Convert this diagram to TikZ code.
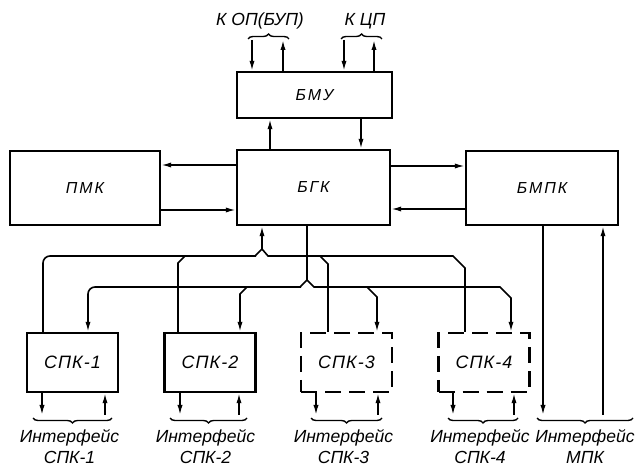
\documentclass[tikz,border=0pt]{standalone}
\usepackage{fontspec}
\setmainfont{Liberation Sans}
\usetikzlibrary{arrows.meta,decorations.pathreplacing}

\tikzset{
    blk/.style={draw,line width=1.2pt,inner sep=0pt,
        font=\itshape\fontsize{8}{10}\selectfont\addfontfeatures{LetterSpace=12}},
    spk/.style={draw,line width=1.2pt,inner sep=0pt,
        minimum width=45.5bp,minimum height=29.5bp,
        font=\itshape\fontsize{9}{11}\selectfont\addfontfeatures{LetterSpace=6}},
    spkopt/.style={spk,dash pattern=on 8bp off 4bp},
    link/.style={line width=0.8pt},
    brc/.style={decorate,decoration={brace,amplitude=2.5bp},line width=0.7pt},
    brcd/.style={decorate,decoration={brace,mirror,amplitude=2.5bp},line width=0.7pt},
    lbl/.style={inner sep=0pt,align=center,
        font=\itshape\fontsize{8.8}{10.5}\selectfont},
}

\begin{document}
\begin{tikzpicture}[x=0.5bp,y=-0.5bp,>={Latex[length=5bp,width=2.6bp]}]
    \useasboundingbox (0,0) rectangle (637,465);

    % blocks
    \node[blk,minimum width=77.5bp,minimum height=23bp] (bmu) at (314.5,95) {БМУ};
    \node[blk,minimum width=75bp,minimum height=37bp] (pmk) at (85,188) {ПМК};
    \node[blk,minimum width=76.5bp,minimum height=37.5bp] (bgk) at (313.5,187.5) {БГК};
    \node[blk,minimum width=76bp,minimum height=37bp] (bmpk) at (542,188) {БМПК};
    \node[spk] (spk1) at (72.5,362.5) {СПК-1\hspace{5bp}};
    \node[spk] (spk2) at (210,362.5) {СПК-2\hspace{5bp}};
    \node[spkopt] (spk3) at (346.5,362.5) {СПК-3\hspace{5bp}};
    \node[spkopt] (spk4) at (484,362.5) {СПК-4\hspace{5bp}};

    % outside links of БМУ
    \coordinate (op-in) at (252,40);
    \coordinate (op-out) at (283,40);
    \coordinate (cp-in) at (344,40);
    \coordinate (cp-out) at (374,40);
    \draw[link,->] (op-in) -- (bmu.north -| op-in);
    \draw[link,->] (bmu.north -| op-out) -- (op-out);
    \draw[link,->] (cp-in) -- (bmu.north -| cp-in);
    \draw[link,->] (bmu.north -| cp-out) -- (cp-out);
    \draw[brc] (248,39) -- (289,39);
    \draw[brc] (341,39) -- (382,39);
    \node[lbl,anchor=base] (op) at (260,26) {К ОП(БУП)};
    \node[lbl,anchor=base] (cp) at (365,26) {К ЦП};

    % БМУ -- БГК
    \draw[link,->] (bgk.north -| 270,0) -- (bmu.south -| 270,0);
    \draw[link,->] (bmu.south -| 361,0) -- (bgk.north -| 361,0);

    % ПМК -- БГК -- БМПК
    \draw[link,->] (bgk.west |- 0,165) -- (pmk.east |- 0,165);
    \draw[link,->] (pmk.east |- 0,210) -- (bgk.west |- 0,210);
    \draw[link,->] (bgk.east |- 0,166) -- (bmpk.west |- 0,166);
    \draw[link,->] (bmpk.west |- 0,209) -- (bgk.east |- 0,209);

    % return bus: СПК -> БГК
    \coordinate (m1) at (262,249);
    \draw[link,->] (m1) -- (bgk.south -| m1);
    \draw[link,rounded corners=3.5bp] (spk1.north -| 43,0) -- (43,256) -- (256,256);
    \draw[link] (255,256) -- (m1) -- (268,256) -- (453,256) -- (465,268)
        -- (spk4.north -| 465,0);
    \draw[link] (spk2.north -| 178,0) -- (178,263) -- (185,256);
    \draw[link] (320,256) -- (328,264) -- (spk3.north -| 328,0);

    % feed bus: БГК -> СПК
    \coordinate (s1) at (307,280);
    \draw[link] (bgk.south -| s1) -- (s1) -- (300,287);
    \draw[link,->,rounded corners=3.5bp] (301,287) -- (88,287) -- (spk1.north -| 88,0);
    \draw[link,->] (s1) -- (314,287) -- (500,287) -- (511,298) -- (spk4.north -| 511,0);
    \draw[link,->] (247,287) -- (240,294) -- (spk2.north -| 240,0);
    \draw[link,->] (367,287) -- (377,297) -- (spk3.north -| 377,0);

    % interfaces of СПК
    \foreach \n/\a/\b/\l/\r in {1/42/105/33/112,2/180/239/170/247,3/316/378/311/382,4/453/514/448/518}{
        \coordinate (if\n-out) at (\a,415);
        \coordinate (if\n-in) at (\b,415);
        \draw[link,->] (spk\n.south -| if\n-out) -- (if\n-out);
        \draw[link,->] (if\n-in) -- (spk\n.south -| if\n-in);
        \draw[brcd] (\l,418) -- (\r,418);
        \node[lbl,anchor=north] (if\n) at ({(\l+\r)/2-3},429) {Интерфейс\\СПК-\n};
    }

    % interface of МПК
    \coordinate (mpk-out) at (543,415);
    \coordinate (mpk-in) at (603,415);
    \draw[link,->] (bmpk.south -| mpk-out) -- (mpk-out);
    \draw[link,->] (mpk-in) -- (bmpk.south -| mpk-in);
    \draw[brcd] (537,418) -- (633,418);
    \node[lbl,anchor=north] (ifm) at (585,429) {Интерфейс\\МПК};
\end{tikzpicture}
\end{document}
